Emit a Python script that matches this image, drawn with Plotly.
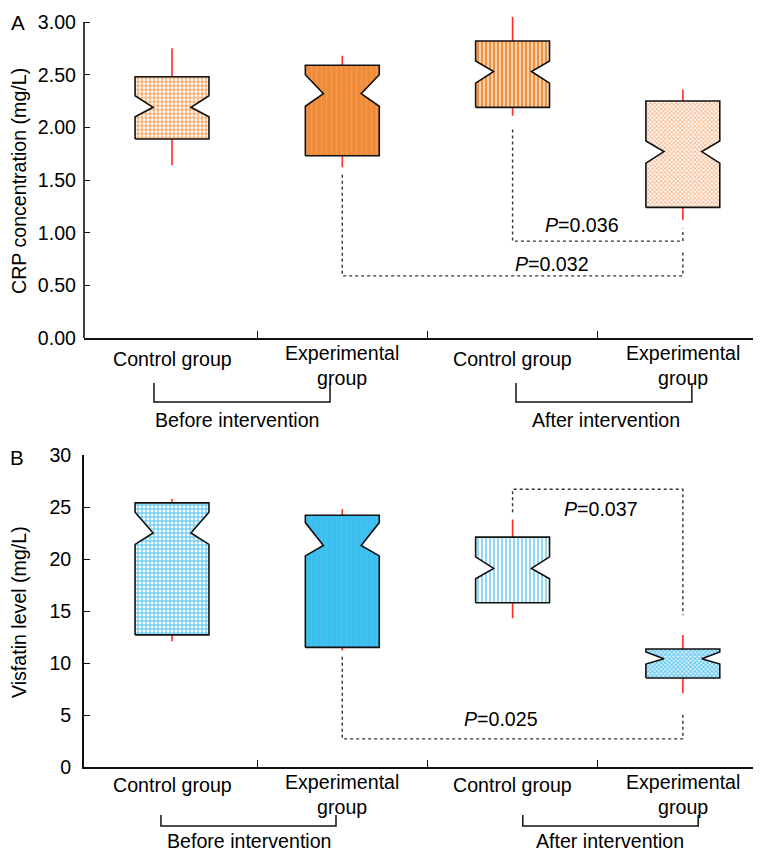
import plotly.graph_objects as go

# ---------------- data ----------------
categories = ["Control group", "Experimental<br>group", "Control group", "Experimental<br>group"]
phases = ["Before intervention", "After intervention"]

# Panel A: CRP concentration (mg/L)
crp_whisk_lo = [1.64, 1.62, 2.11, 1.12]
crp_q1       = [1.89, 1.73, 2.19, 1.24]
crp_notch_lo = [2.10, 2.20, 2.42, 1.66]
crp_median   = [2.19, 2.32, 2.53, 1.77]
crp_notch_hi = [2.30, 2.50, 2.63, 1.87]
crp_q3       = [2.48, 2.59, 2.82, 2.25]
crp_whisk_hi = [2.75, 2.68, 3.05, 2.36]

# Panel B: Visfatin level (mg/L)
vis_whisk_lo = [12.1, 11.2, 14.3, 7.1]
vis_q1       = [12.7, 11.5, 15.8, 8.56]
vis_notch_lo = [21.4, 20.3, 18.1, 9.9]
vis_median   = [22.5, 21.3, 19.1, 10.4]
vis_notch_hi = [24.5, 23.5, 20.2, 11.06]
vis_q3       = [25.4, 24.2, 22.1, 11.35]
vis_whisk_hi = [25.8, 24.8, 23.8, 12.7]

# significance brackets: (left cat, right cat, left start y, bracket y, right end y, label, label x, label y)
crp_sig = [
    (2, 3, 1.98, 0.92, 1.04, "0.036", 2.41, 1.07),
    (1, 3, 1.55, 0.59, 0.82, "0.032", 2.23, 0.70),
]
vis_sig = [
    (2, 3, 24.5, 26.7, 14.6, "0.037", 2.52, 24.8),
    (1, 3, 10.6, 2.7, 5.2, "0.025", 1.93, 4.6),
]

# ---------------- styling ----------------
OFF = 8                      # page body margin
W, H = 761 - OFF, 852 - OFF
LEFT, RIGHT = 84, 761        # plot area in screen px
FONT = "Liberation Sans, Arial, sans-serif"
FS = 19.6
TXT = "#000000"
HALF_W = 0.217
NOTCH_IN = 0.106

orange_styles = [
    dict(shape="+", fgcolor="#F28A32", bgcolor="#FFFFFF", size=4, solidity=0.4),
    dict(shape="|", fgcolor="#F39A50", bgcolor="#EF8C3A", size=5, solidity=0.25),
    dict(shape="|", fgcolor="#F08A30", bgcolor="#FAD2B0", size=4, solidity=0.45),
    dict(shape="x", fgcolor="#F6B88C", bgcolor="#FFFFFF", size=3, solidity=0.5),
]
blue_styles = [
    dict(shape="+", fgcolor="#36BAEE", bgcolor="#FFFFFF", size=4, solidity=0.4),
    dict(shape="|", fgcolor="#45C3F1", bgcolor="#3CBEEE", size=5, solidity=0.25),
    dict(shape="|", fgcolor="#72CDF3", bgcolor="#FFFFFF", size=4, solidity=0.4),
    dict(shape="x", fgcolor="#5EC6F0", bgcolor="#DDF3FC", size=3, solidity=0.55),
]


def py2paper(py):
    return 1 - (py - OFF) / H


def px2paper(px):
    return (px - LEFT) / (RIGHT - LEFT)


top_dom = [py2paper(338), py2paper(15.7)]
bot_dom = [py2paper(767), py2paper(455)]
XR = [-0.517, 3.459]

fig = go.Figure()


def add_panel(xa, ya, wl, q1, nl, md, nh, q3, wh, styles):
    for i in range(len(q1)):
        c = i
        fig.add_trace(go.Scatter(x=[c, c, None, c, c], y=[wl[i], q1[i], None, q3[i], wh[i]],
                                 mode="lines", line=dict(color="#FF2B2B", width=1.6),
                                 xaxis=xa, yaxis=ya, hoverinfo="skip", showlegend=False))
        l, r = c - HALF_W, c + HALF_W
        xs = [l, l, l + NOTCH_IN, l, l, r, r, r - NOTCH_IN, r, r, l]
        ys = [q1[i], nl[i], md[i], nh[i], q3[i], q3[i], nh[i], md[i], nl[i], q1[i], q1[i]]
        st = styles[i]
        fig.add_trace(go.Scatter(x=xs, y=ys, mode="lines", fill="toself",
                                 fillcolor=st["bgcolor"],
                                 fillpattern=dict(shape=st["shape"], fgcolor=st["fgcolor"],
                                                  bgcolor=st["bgcolor"], size=st["size"],
                                                  solidity=st["solidity"], fillmode="replace"),
                                 line=dict(color="#111111", width=1.6),
                                 xaxis=xa, yaxis=ya, hoverinfo="skip", showlegend=False))


def add_sig(xa, ya, sig):
    for (a, b, y_start, y_br, y_end, lab, tx, ty) in sig:
        fig.add_trace(go.Scatter(x=[a, a, b, b], y=[y_start, y_br, y_br, y_end], mode="lines",
                                 line=dict(color="#333333", width=1.4, dash="dot"),
                                 xaxis=xa, yaxis=ya, hoverinfo="skip", showlegend=False))
        fig.add_annotation(x=tx, y=ty, xref=xa, yref=ya, text="<i>P</i>=" + lab, showarrow=False,
                           font=dict(family=FONT, size=FS, color=TXT), xanchor="center", yanchor="middle")


add_panel("x", "y", crp_whisk_lo, crp_q1, crp_notch_lo, crp_median, crp_notch_hi, crp_q3, crp_whisk_hi, orange_styles)
add_panel("x2", "y2", vis_whisk_lo, vis_q1, vis_notch_lo, vis_median, vis_notch_hi, vis_q3, vis_whisk_hi, blue_styles)
add_sig("x", "y", crp_sig)
add_sig("x2", "y2", vis_sig)

axis_common = dict(showgrid=False, zeroline=False, linecolor="#111111", linewidth=1.6,
                   ticks="inside", tickcolor="#111111", tickwidth=1.4, automargin=False,
                   tickfont=dict(family=FONT, size=FS, color=TXT))

fig.update_layout(
    template="none",
    width=W, height=H, margin=dict(l=LEFT - OFF, r=0, t=0, b=0, pad=0), autosize=False,
    paper_bgcolor="white", plot_bgcolor="white", showlegend=False,
    xaxis=dict(domain=[0, 1], range=XR, anchor="y", showline=True, tickvals=[0.5, 1.5, 2.5],
               ticklen=7, showticklabels=False, **axis_common),
    yaxis=dict(domain=top_dom, range=[0, 3.06], anchor="x", showline=False,
               tickvals=[0, 0.5, 1, 1.5, 2, 2.5, 3], tickformat=".2f", ticklen=6,
               ticklabelstandoff=7, **axis_common),
    xaxis2=dict(domain=[0, 1], range=XR, anchor="y2", showline=True, tickvals=[0.5, 1.5, 2.5],
                ticklen=7, showticklabels=False, **axis_common),
    yaxis2=dict(domain=bot_dom, range=[0, 30], anchor="x2", showline=True,
                tickvals=[0, 5, 10, 15, 20, 25, 30], ticklen=6, ticklabelstandoff=7, **axis_common),
)

# y-axis line for panel A (stops at 3.00)
fig.add_shape(type="line", xref="paper", yref="paper", x0=0, x1=0,
              y0=top_dom[0], y1=top_dom[0] + (top_dom[1] - top_dom[0]) * 3 / 3.06,
              line=dict(color="#111111", width=1.6))

# category labels
cat_y_top = [py2paper(359), py2paper(365), py2paper(359), py2paper(365)]
cat_y_bot = [py2paper(785), py2paper(794), py2paper(785), py2paper(794)]
for i, cat in enumerate(categories):
    fig.add_annotation(x=i, y=cat_y_top[i], xref="x", yref="paper", text=cat, showarrow=False,
                       font=dict(family=FONT, size=FS, color=TXT), xanchor="center", yanchor="middle")
    fig.add_annotation(x=i, y=cat_y_bot[i], xref="x2", yref="paper", text=cat, showarrow=False,
                       font=dict(family=FONT, size=FS, color=TXT), xanchor="center", yanchor="middle")

# phase brackets
brackets = [
    ("x", -0.106, 0.928, 383, 402, 0.38, 420, phases[0]),
    ("x", 2.02, 3.053, 383, 402, 2.55, 420, phases[1]),
    ("x2", -0.065, 0.963, 815, 826, 0.45, 841, phases[0]),
    ("x2", 2.06, 3.09, 815, 826, 2.57, 841, phases[1]),
]
for xa, xl, xr, yt, yb, tx, ty, lab in brackets:
    fig.add_shape(type="path", xref=xa, yref="paper",
                  path=f"M {xl},{py2paper(yt)} L {xl},{py2paper(yb)} L {xr},{py2paper(yb)} L {xr},{py2paper(yt)}",
                  line=dict(color="#111111", width=1.5))
    fig.add_annotation(x=tx, y=py2paper(ty), xref=xa, yref="paper", text=lab, showarrow=False,
                       font=dict(family=FONT, size=FS, color=TXT), xanchor="center", yanchor="middle")

# panel letters and y titles
fig.add_annotation(x=px2paper(18), y=py2paper(22), xref="paper", yref="paper", text="A",
                   xanchor="center", yanchor="middle",
                   showarrow=False, font=dict(family=FONT, size=FS + 1, color=TXT))
fig.add_annotation(x=px2paper(17), y=py2paper(457), xref="paper", yref="paper", text="B",
                   xanchor="center", yanchor="middle",
                   showarrow=False, font=dict(family=FONT, size=FS + 1, color=TXT))
fig.add_annotation(x=px2paper(19), y=py2paper(181), xref="paper", yref="paper",
                   text="CRP concentration (mg/L)", textangle=-90, showarrow=False,
                   xanchor="center", yanchor="middle",
                   font=dict(family=FONT, size=FS, color=TXT))
fig.add_annotation(x=px2paper(19), y=py2paper(612), xref="paper", yref="paper",
                   text="Visfatin level (mg/L)", textangle=-90, showarrow=False,
                   xanchor="center", yanchor="middle",
                   font=dict(family=FONT, size=FS, color=TXT))

fig.write_html("out.html")
